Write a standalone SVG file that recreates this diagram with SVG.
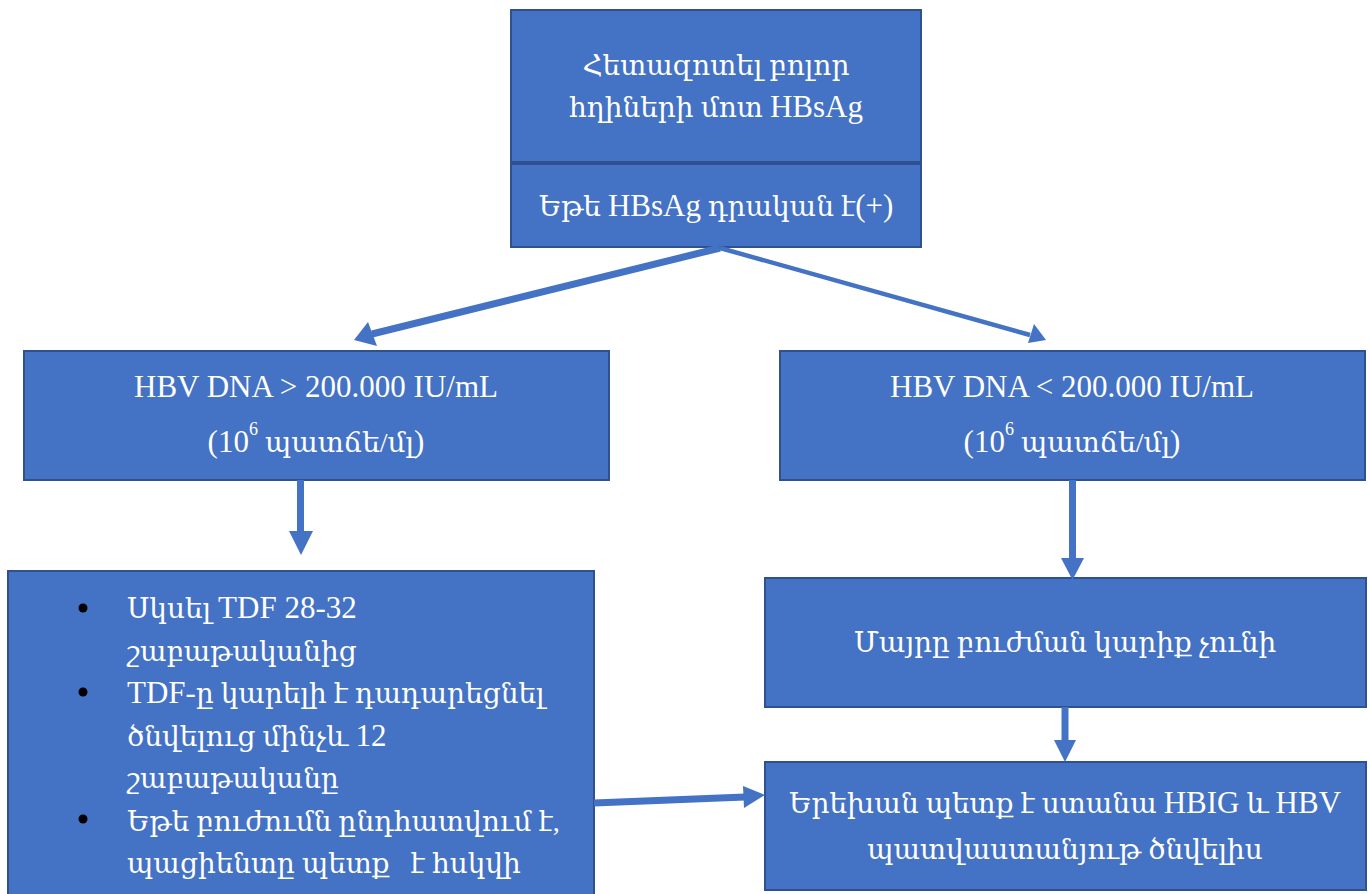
<svg xmlns="http://www.w3.org/2000/svg" width="1370" height="894" viewBox="0 0 1370 894">
<style>
.box{fill:#4472C4;stroke:#2F528F;stroke-width:2}
.t{fill:#ffffff;font-family:"Liberation Serif","DejaVu Serif",serif;font-size:28px;white-space:pre}
.L{font-size:31px}
.c{text-anchor:middle}
.ln{stroke:#4472C4;fill:none}
.ah{fill:#4472C4}
.bul{fill:#000000}
</style>
<rect width="1370" height="894" fill="#ffffff"/>
<g id="n1">
<rect class="box" x="511" y="10" width="410" height="152"/>
<text class="t c" x="716" y="75">Հետազոտել բոլոր</text>
<text class="t c" x="716" y="117">հղիների մոտ <tspan class="L">HBsAg</tspan></text>
</g>
<g id="n2">
<rect class="box" x="511" y="164" width="410" height="83"/>
<text class="t c" x="716" y="216">Եթե <tspan class="L">HBsAg</tspan> դրական է<tspan class="L">(+)</tspan></text>
</g>
<g id="n3">
<rect class="box" x="24" y="351" width="585" height="129"/>
<text class="t c L" x="316" y="397">HBV DNA &gt; 200.000 IU/mL</text>
<text class="t c" x="316" y="452"><tspan class="L">(10</tspan><tspan dy="-17" font-size="18">6</tspan><tspan dy="17"> պատճե/մլ</tspan><tspan class="L">)</tspan></text>
</g>
<g id="n4">
<rect class="box" x="780" y="351" width="585" height="129"/>
<text class="t c L" x="1072" y="397">HBV DNA &lt; 200.000 IU/mL</text>
<text class="t c" x="1072" y="452"><tspan class="L">(10</tspan><tspan dy="-17" font-size="18">6</tspan><tspan dy="17"> պատճե/մլ</tspan><tspan class="L">)</tspan></text>
</g>
<g id="n5">
<rect class="box" x="8" y="571" width="586" height="330"/>
<circle class="bul" cx="83" cy="608" r="4.5"/>
<circle class="bul" cx="83" cy="692" r="4.5"/>
<circle class="bul" cx="83" cy="819" r="4.5"/>
<text class="t" x="127" y="618">Սկսել <tspan class="L">TDF 28-32</tspan></text>
<text class="t" x="127" y="661">շաբաթականից</text>
<text class="t" x="127" y="703"><tspan class="L">TDF-</tspan>ը կարելի է դադարեցնել</text>
<text class="t" x="127" y="746">ծնվելուց մինչև <tspan class="L">12</tspan></text>
<text class="t" x="127" y="788">շաբաթականը</text>
<text class="t" x="127" y="831">Եթե բուժումն ընդհատվում է,</text>
<text class="t" x="127" y="873">պացիենտը պետք   է հսկվի</text>
</g>
<g id="n6">
<rect class="box" x="765" y="578" width="601" height="129"/>
<text class="t c" x="1065" y="652">Մայրը բուժման կարիք չունի</text>
</g>
<g id="n7">
<rect class="box" x="765" y="762" width="601" height="128"/>
<text class="t c" x="1065" y="813">Երեխան պետք է ստանա <tspan class="L">HBIG</tspan> և <tspan class="L">HBV</tspan></text>
<text class="t c" x="1065" y="859">պատվաստանյութ ծնվելիս</text>
</g>
<g id="connectors">
<line class="ln" x1="720" y1="248" x2="372" y2="334" stroke-width="7"/>
<polygon class="ah" points="354,340 368,322 377,346"/>
<line class="ln" x1="720" y1="248" x2="1030" y2="335" stroke-width="4.5"/>
<polygon class="ah" points="1046,340 1028,343 1034,324"/>
<line class="ln" x1="300.5" y1="480" x2="300.5" y2="532" stroke-width="7"/>
<polygon class="ah" points="289,531 313,531 301,555"/>
<line class="ln" x1="1072.5" y1="480" x2="1072.5" y2="560" stroke-width="7"/>
<polygon class="ah" points="1061,558 1084,558 1072.5,580"/>
<line class="ln" x1="1065" y1="707" x2="1065" y2="742" stroke-width="7"/>
<polygon class="ah" points="1054,740 1076,740 1065,762"/>
<line class="ln" x1="594" y1="803" x2="745" y2="797" stroke-width="7"/>
<polygon class="ah" points="743,786 765,795 744,808"/>
</g>
</svg>
